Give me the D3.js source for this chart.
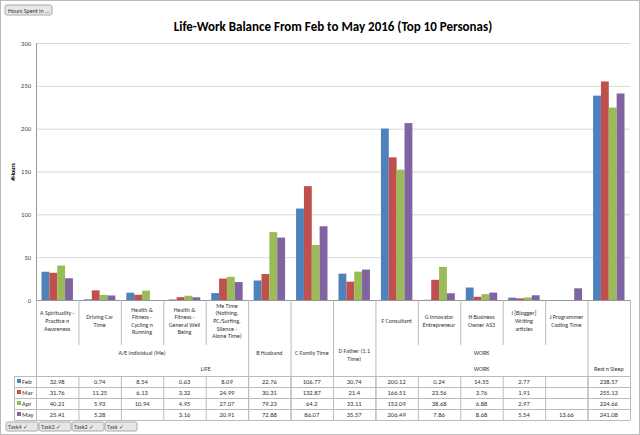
<!DOCTYPE html>
<html><head><meta charset="utf-8">
<script src="https://cdn.jsdelivr.net/npm/d3@7"></script>
<style>body{margin:0;background:#fff}text{font-family:Calibri,Carlito,"Liberation Sans",sans-serif}</style>
</head><body><svg id="c" width="640" height="435"></svg>
<script>
// categories and their labels
var cats = ["A Spirituality - Practice n Awareness","Driving Car Time","Health & Fitness - Cycling n Running","Health & Fitness - General Well Being","Me Time (Nothing, PC/Surfing, Silence - Alone Time)","B Husband","C Family Time","D Father (1:1 Time)","F Consultant","G Innovator Entrepreneur","H Business Owner AS3","I [Blogger] Writing articles","J Programmer Coding Time","Rest n Sleep"];
var catLines = [["A Spirituality -","Practice n","Awareness"],["Driving Car","Time"],["Health &","Fitness -","Cycling n","Running"],["Health &","Fitness -","General Well","Being"],["Me Time","(Nothing,","PC/Surfing,","Silence -","Alone Time)"],["B Husband"],["C Family Time"],["D Father (1:1","Time)"],["F Consultant"],["G Innovator","Entrepreneur"],["H Business","Owner AS3"],["I [Blogger]","Writing","articles"],["J Programmer","Coding Time"],["Rest n Sleep"]];
var months = ["Feb","Mar","Apr","May"];
var feb = [32.98,0.74,8.54,0.63,8.09,22.76,106.77,30.74,200.12,0.24,14.55,2.77,null,238.57];
var mar = [31.76,11.25,6.13,3.32,24.99,30.31,132.87,21.4,166.51,23.56,3.76,1.91,null,255.13];
var apr = [40.21,5.93,10.94,4.95,27.07,79.23,64.2,33.11,152.09,38.68,6.88,2.97,null,224.66];
var may = [25.41,5.28,null,3.16,20.91,72.88,86.07,35.57,206.49,7.86,8.68,5.54,13.66,241.08];
var series = [feb,mar,apr,may];
var colors = ["#4F81BD","#C0504D","#9BBB59","#8064A2"];
var yTicks = [0,50,100,150,200,250,300];

var svg = d3.select("#c");
var L = 36, R = 630, T = 43, B = 300;
var x = d3.scaleBand().domain(d3.range(cats.length)).range([L,R]);
var xs = d3.scaleBand().domain(d3.range(4)).range([0,x.bandwidth()]).paddingOuter(0.7).paddingInner(0);
var y = d3.scaleLinear().domain([0,300]).range([B,T]);

svg.append("rect").attr("x",0.5).attr("y",0.5).attr("width",639).attr("height",434).attr("fill","#fff").attr("stroke","#bbb");
// top button
svg.append("rect").attr("x",5).attr("y",5).attr("width",47).attr("height",10).attr("rx",2).attr("fill","#e8e8e8").attr("stroke","#aaa");
svg.append("text").attr("x",8).attr("y",13).attr("font-size",6).attr("fill","#333").text("Hours Spent in ...");

svg.append("text").attr("x",333).attr("y",31).attr("text-anchor","middle").attr("font-size",13).attr("font-weight","bold").text("Life-Work Balance From Feb to May 2016 (Top 10 Personas)");

// grid and axis
svg.selectAll(".g").data(yTicks).enter().append("line").attr("x1",L).attr("x2",R)
  .attr("y1",d=>y(d)+0.5).attr("y2",d=>y(d)+0.5).attr("stroke","#d9d9d9");
svg.selectAll(".yt").data(yTicks).enter().append("text").attr("x",L-5).attr("y",d=>y(d)+2.5)
  .attr("text-anchor","end").attr("font-size",6.5).attr("fill","#444").text(d=>d);
svg.append("line").attr("x1",L+0.5).attr("x2",L+0.5).attr("y1",T).attr("y2",B).attr("stroke","#999");
svg.append("text").attr("transform","translate(15,172) rotate(-90)").attr("text-anchor","middle").attr("font-size",6).attr("font-weight","bold").text("#Hours");

// bars
series.forEach(function(s,i){
  var g = svg.append("g");
  s.forEach(function(v,j){
    if(v==null) return;
    g.append("rect").attr("x",x(j)+xs(i)).attr("y",y(v)).attr("width",xs.bandwidth()).attr("height",B-y(v)).attr("fill",colors[i]);
  });
});
svg.append("line").attr("x1",L).attr("x2",R).attr("y1",B+0.5).attr("y2",B+0.5).attr("stroke","#999");

// header of data table
var ln = "#bbb";
var rowY = [376,387,398,409,420];
function vline(xp,y1,y2){svg.append("line").attr("x1",xp+0.5).attr("x2",xp+0.5).attr("y1",y1).attr("y2",y2).attr("stroke",ln);}
function hline(x1,x2,yp){svg.append("line").attr("x1",x1).attr("x2",x2).attr("y1",yp+0.5).attr("y2",yp+0.5).attr("stroke",ln);}
for(var j=0;j<=cats.length;j++){
  var xp = j<cats.length? x(j) : R;
  var yb = 345;
  if([0,5,6,7,8,13,14].indexOf(j)>=0) yb = 420;
  vline(xp,B,yb);
}
for(var j=1;j<14;j++){ vline(x(j),rowY[0],rowY[4]); }
vline(14,rowY[0],rowY[4]);
rowY.forEach(r=>hline(14,R,r));

function multi(lines,cx,cy,fs){
  var t = svg.append("text").attr("text-anchor","middle").attr("font-size",fs||6).attr("fill","#333");
  var h=7.6, y0 = cy-(lines.length-1)*h/2;
  lines.forEach((l,k)=>t.append("tspan").attr("x",cx).attr("y",y0+k*h+2).text(l));
}
catLines.forEach(function(ls,j){
  var cx = x(j)+x.bandwidth()/2, cy;
  if(j<5 || (j>=8 && j<=12)) cy = 321;
  else if(j==5||j==6) cy = 353;
  else if(j==7) cy = 355;
  else cy = 369;
  multi(ls,cx,cy);
});
multi(["A/E Individual (Me)"],(x(0)+x(5))/2,353);
multi(["LIFE"],(x(0)+x(8))/2,369);
multi(["WORK"],(x(8)+x(13))/2,353);
multi(["WORK"],(x(8)+x(13))/2,369);

// data rows
series.forEach(function(s,i){
  var cy = rowY[i]+8;
  svg.append("rect").attr("x",17).attr("y",cy-5).attr("width",4).attr("height",4).attr("fill",colors[i]);
  svg.append("text").attr("x",22).attr("y",cy).attr("font-size",6.5).attr("fill","#333").text(months[i]);
  s.forEach(function(v,j){
    if(v==null) return;
    svg.append("text").attr("x",x(j)+x.bandwidth()/2).attr("y",cy).attr("text-anchor","middle").attr("font-size",6.5).attr("fill","#333").text(v);
  });
});

// task buttons
["Task4","Task3","Task2","Task"].forEach(function(t,k){
  var bx = 6+k*33;
  svg.append("rect").attr("x",bx).attr("y",422).attr("width",32).attr("height",9).attr("rx",1.5).attr("fill","#e6e6e6").attr("stroke","#aaa");
  svg.append("text").attr("x",bx+2).attr("y",429).attr("font-size",6).attr("fill","#444").text(t+"  \u2713");
});
</script></body></html>
